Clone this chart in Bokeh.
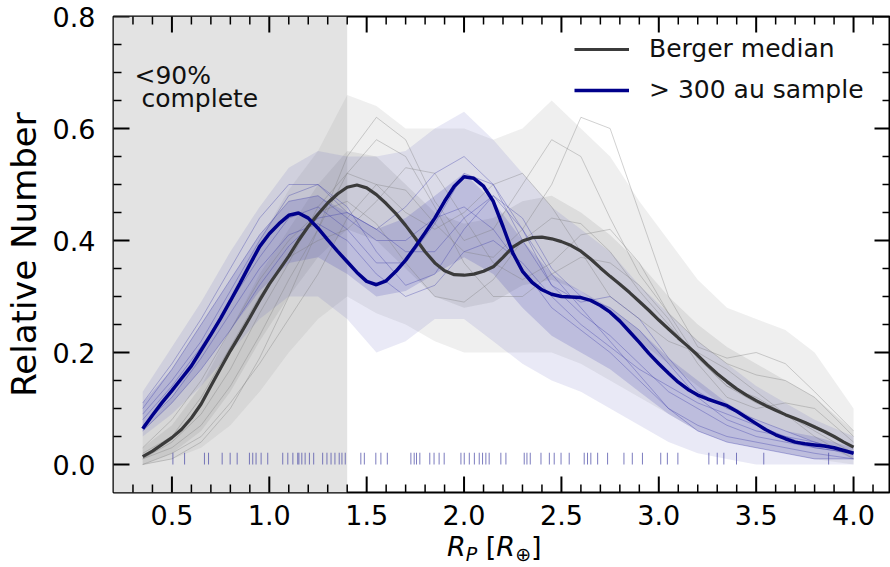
import math
from bokeh.plotting import figure
from bokeh.layouts import column
from bokeh.models import (Range1d, SingleIntervalTicker, PrintfTickFormatter, BoxAnnotation,
                          Label, Legend, LegendItem, Div)
from bokeh.embed import file_html
from bokeh.resources import INLINE

FONT = "DejaVu Sans"

# ---------------- data ----------------
x_fine = [round(0.35 + 0.05 * i, 2) for i in range(74)]
berger_median = [0.014, 0.024, 0.036, 0.048, 0.063, 0.083, 0.108, 0.140, 0.172, 0.203,
                 0.232, 0.262, 0.293, 0.322, 0.347, 0.372, 0.400, 0.425, 0.447, 0.467,
                 0.483, 0.495, 0.499, 0.494, 0.482, 0.466, 0.448, 0.427, 0.404, 0.380,
                 0.360, 0.346, 0.339, 0.338, 0.340, 0.345, 0.353, 0.370, 0.388, 0.399,
                 0.405, 0.406, 0.403, 0.398, 0.391, 0.381, 0.367, 0.351, 0.336, 0.322,
                 0.307, 0.291, 0.275, 0.258, 0.242, 0.226, 0.211, 0.195, 0.178, 0.162,
                 0.148, 0.135, 0.124, 0.114, 0.105, 0.097, 0.089, 0.082, 0.075, 0.067,
                 0.059, 0.050, 0.040, 0.031]
sample_300au = [0.064, 0.088, 0.111, 0.132, 0.154, 0.176, 0.204, 0.232, 0.261, 0.292,
                0.324, 0.357, 0.389, 0.412, 0.430, 0.445, 0.449, 0.440, 0.422, 0.401,
                0.381, 0.362, 0.343, 0.327, 0.321, 0.328, 0.345, 0.365, 0.389, 0.414,
                0.440, 0.470, 0.497, 0.514, 0.511, 0.497, 0.470, 0.425, 0.378, 0.345,
                0.325, 0.312, 0.304, 0.300, 0.299, 0.298, 0.293, 0.284, 0.272, 0.256,
                0.237, 0.218, 0.198, 0.180, 0.163, 0.147, 0.134, 0.124, 0.117, 0.111,
                0.105, 0.095, 0.084, 0.073, 0.062, 0.053, 0.046, 0.040, 0.037, 0.035,
                0.033, 0.030, 0.025, 0.020]

x_coarse = [0.35, 0.5, 0.65, 0.8, 0.95, 1.1, 1.25, 1.4, 1.55, 1.7, 1.85, 2.0, 2.15,
            2.3, 2.45, 2.6, 2.75, 2.9, 3.05, 3.2, 3.35, 3.5, 3.65, 3.8, 4.0]
grey_lo = [0.00, 0.01, 0.03, 0.07, 0.13, 0.20, 0.26, 0.30, 0.27, 0.25, 0.22, 0.20, 0.20,
           0.20, 0.20, 0.18, 0.15, 0.12, 0.09, 0.06, 0.04, 0.03, 0.02, 0.01, 0.00]
grey_hi = [0.06, 0.12, 0.20, 0.30, 0.40, 0.49, 0.56, 0.66, 0.64, 0.60, 0.60, 0.60, 0.58,
           0.60, 0.65, 0.60, 0.55, 0.47, 0.40, 0.33, 0.28, 0.26, 0.24, 0.20, 0.10]
grey_core_lo = [0.00, 0.02, 0.06, 0.13, 0.22, 0.30, 0.37, 0.42, 0.40, 0.35, 0.30, 0.28, 0.29,
                0.32, 0.33, 0.31, 0.27, 0.22, 0.18, 0.14, 0.10, 0.08, 0.06, 0.04, 0.01]
grey_core_hi = [0.03, 0.07, 0.14, 0.24, 0.34, 0.42, 0.50, 0.56, 0.55, 0.50, 0.45, 0.43, 0.44,
                0.47, 0.48, 0.45, 0.41, 0.36, 0.30, 0.25, 0.21, 0.18, 0.15, 0.12, 0.06]
blue_lo = [0.05, 0.09, 0.14, 0.20, 0.26, 0.30, 0.30, 0.26, 0.20, 0.22, 0.26, 0.26, 0.22,
           0.18, 0.15, 0.13, 0.10, 0.07, 0.04, 0.02, 0.01, 0.00, 0.00, 0.00, 0.00]
blue_hi = [0.13, 0.21, 0.29, 0.38, 0.46, 0.53, 0.56, 0.55, 0.55, 0.56, 0.60, 0.63, 0.58,
           0.52, 0.46, 0.42, 0.38, 0.32, 0.27, 0.22, 0.18, 0.14, 0.11, 0.08, 0.05]
blue_core_lo = [0.06, 0.11, 0.17, 0.24, 0.31, 0.36, 0.37, 0.34, 0.30, 0.31, 0.34, 0.37, 0.34,
                0.28, 0.23, 0.20, 0.17, 0.13, 0.09, 0.06, 0.04, 0.03, 0.02, 0.01, 0.01]
blue_core_hi = [0.11, 0.17, 0.25, 0.33, 0.41, 0.47, 0.48, 0.45, 0.42, 0.44, 0.48, 0.52, 0.47,
                0.40, 0.34, 0.31, 0.28, 0.24, 0.19, 0.15, 0.11, 0.08, 0.06, 0.05, 0.03]

grey_draws = [
    [0.00, 0.01, 0.04, 0.10, 0.19, 0.30, 0.42, 0.55, 0.62, 0.58, 0.47, 0.40, 0.42, 0.50, 0.58, 0.55, 0.44, 0.34, 0.27, 0.22, 0.18, 0.16, 0.15, 0.12, 0.05],
    [0.03, 0.08, 0.15, 0.24, 0.33, 0.40, 0.45, 0.47, 0.43, 0.36, 0.30, 0.29, 0.33, 0.40, 0.44, 0.43, 0.38, 0.31, 0.25, 0.19, 0.14, 0.11, 0.09, 0.07, 0.03],
    [0.01, 0.03, 0.07, 0.14, 0.23, 0.33, 0.42, 0.52, 0.58, 0.55, 0.46, 0.36, 0.30, 0.30, 0.34, 0.37, 0.36, 0.32, 0.26, 0.18, 0.12, 0.10, 0.11, 0.10, 0.04],
    [0.02, 0.05, 0.12, 0.21, 0.30, 0.37, 0.40, 0.42, 0.47, 0.53, 0.52, 0.44, 0.36, 0.33, 0.36, 0.41, 0.42, 0.36, 0.27, 0.19, 0.14, 0.12, 0.09, 0.06, 0.02],
    [0.00, 0.02, 0.05, 0.11, 0.18, 0.26, 0.34, 0.44, 0.50, 0.49, 0.43, 0.38, 0.37, 0.42, 0.50, 0.62, 0.60, 0.45, 0.30, 0.21, 0.19, 0.20, 0.18, 0.13, 0.06],
    [0.01, 0.04, 0.09, 0.17, 0.27, 0.36, 0.46, 0.52, 0.50, 0.45, 0.42, 0.45, 0.50, 0.52, 0.46, 0.38, 0.30, 0.26, 0.22, 0.20, 0.17, 0.13, 0.09, 0.05, 0.01],
]
blue_draws = [
    [0.08, 0.14, 0.21, 0.29, 0.37, 0.44, 0.46, 0.42, 0.36, 0.36, 0.43, 0.52, 0.50, 0.40, 0.32, 0.27, 0.23, 0.18, 0.13, 0.10, 0.07, 0.05, 0.04, 0.03, 0.02],
    [0.10, 0.17, 0.25, 0.33, 0.41, 0.47, 0.48, 0.44, 0.40, 0.40, 0.44, 0.46, 0.42, 0.35, 0.28, 0.24, 0.20, 0.15, 0.10, 0.07, 0.05, 0.04, 0.03, 0.02, 0.01],
    [0.06, 0.11, 0.17, 0.24, 0.32, 0.39, 0.44, 0.45, 0.42, 0.38, 0.38, 0.44, 0.48, 0.44, 0.35, 0.30, 0.28, 0.24, 0.18, 0.12, 0.08, 0.06, 0.05, 0.04, 0.02],
    [0.09, 0.15, 0.22, 0.31, 0.40, 0.48, 0.50, 0.46, 0.38, 0.32, 0.34, 0.42, 0.48, 0.42, 0.32, 0.29, 0.30, 0.26, 0.19, 0.13, 0.10, 0.08, 0.06, 0.04, 0.02],
    [0.07, 0.12, 0.19, 0.27, 0.35, 0.41, 0.43, 0.40, 0.34, 0.30, 0.32, 0.38, 0.40, 0.36, 0.30, 0.25, 0.21, 0.17, 0.14, 0.11, 0.09, 0.07, 0.05, 0.03, 0.02],
    [0.11, 0.18, 0.26, 0.35, 0.44, 0.50, 0.50, 0.45, 0.42, 0.46, 0.52, 0.55, 0.50, 0.42, 0.34, 0.28, 0.22, 0.16, 0.10, 0.06, 0.04, 0.03, 0.02, 0.01, 0.01],
]

rug_radii = [0.505, 0.565, 0.667, 0.688, 0.758, 0.799, 0.835, 0.898, 0.915, 0.932, 0.958,
             0.992, 1.069, 1.095, 1.121, 1.146, 1.152, 1.167, 1.184, 1.206, 1.228, 1.274,
             1.296, 1.317, 1.337, 1.359, 1.373, 1.39, 1.47, 1.488, 1.547, 1.573, 1.606,
             1.727, 1.744, 1.756, 1.773, 1.824, 1.846, 1.872, 1.898, 1.984, 2.001, 2.027,
             2.053, 2.078, 2.095, 2.112, 2.129, 2.189, 2.215, 2.309, 2.323, 2.34, 2.395,
             2.438, 2.463, 2.498, 2.54, 2.617, 2.634, 2.651, 2.686, 2.737, 2.821, 2.864,
             2.916, 3.01, 3.044, 3.098, 3.257, 3.3, 3.334, 3.399, 3.539, 3.872]

completeness_limit = 1.4
legend_labels = ["Berger median", "> 300 au sample"]

# ---------------- geometry (canvas sits at the page's top-left corner) ----------------
W, H = 890, 530
ML, MR, MT, MB = 112, 0, 16, 38
FW, FH = W - ML - MR, H - MT - MB
X0, Y0, Y1 = 0.2, -0.05, 0.8
XPX = 195.0
X1 = X0 + FW / XPX
YPX = FH / (Y1 - Y0)

p = figure(width=W, height=H, x_range=Range1d(X0, X1), y_range=Range1d(Y0, Y1),
           output_backend="svg", toolbar_location=None,
           min_border_left=ML, min_border_right=MR, min_border_top=MT, min_border_bottom=MB)
p.xgrid.visible = False
p.ygrid.visible = False
p.outline_line_color = "black"
p.outline_line_width = 2
p.background_fill_color = "white"
p.border_fill_color = "white"

p.add_layout(BoxAnnotation(right=completeness_limit, fill_color="#e3e3e3", fill_alpha=1.0,
                           line_color=None, level="underlay"))

# faint clouds
p.varea(x=x_coarse, y1=grey_lo, y2=grey_hi, fill_color="#8c8c8c", fill_alpha=0.14)
p.varea(x=x_coarse, y1=grey_core_lo, y2=grey_core_hi, fill_color="#8c8c8c", fill_alpha=0.18)
p.varea(x=x_coarse, y1=blue_lo, y2=blue_hi, fill_color="#4646b4", fill_alpha=0.12)
p.varea(x=x_coarse, y1=blue_core_lo, y2=blue_core_hi, fill_color="#4646b4", fill_alpha=0.2)
for d in grey_draws:
    p.line(x_coarse, d, line_color="#7a7a7a", line_alpha=0.35, line_width=1)
for d in blue_draws:
    p.line(x_coarse, d, line_color="#3a3aa8", line_alpha=0.35, line_width=1)

p.segment(x0=rug_radii, y0=[0.0] * len(rug_radii), x1=rug_radii, y1=[0.021] * len(rug_radii),
          line_color="#4f4fa8", line_alpha=0.75, line_width=1)

r_med = p.line(x_fine, berger_median, line_color="#3b3b3b", line_width=3.2)
r_blue = p.line(x_fine, sample_300au, line_color="#00008b", line_width=3.5)

# inward ticks on all four sides (clipped to the frame, so half of each dash shows)
x_major = [0.5 * i for i in range(1, 9)]
x_minor = [round(0.1 * i, 1) for i in range(3, 42) if i % 5 != 0]
y_major = [0.2 * i for i in range(0, 5)]
y_minor = [round(0.05 * i, 2) for i in range(1, 16) if i % 4 != 0]
for xs_edge in (X0, X1):
    p.scatter([xs_edge] * len(y_major), y_major, marker="dash", size=32, line_color="black", line_width=2)
    p.scatter([xs_edge] * len(y_minor), y_minor, marker="dash", size=16, line_color="black", line_width=1.5)
for ys_edge in (Y0, Y1):
    p.scatter(x_major, [ys_edge] * len(x_major), marker="dash", size=32, angle=math.pi / 2,
              line_color="black", line_width=2)
    p.scatter(x_minor, [ys_edge] * len(x_minor), marker="dash", size=16, angle=math.pi / 2,
              line_color="black", line_width=1.5)

legend = Legend(items=[LegendItem(label=legend_labels[0], renderers=[r_med]),
                       LegendItem(label=legend_labels[1], renderers=[r_blue])],
                location=(461, 388), orientation="vertical",
                glyph_width=55, glyph_height=20, label_height=20, label_standoff=20,
                spacing=12, padding=0, margin=0,
                border_line_color=None, background_fill_alpha=0,
                label_text_font=FONT, label_text_font_size="25px", label_text_color="#111111")
p.add_layout(legend)

def xl(px):
    return X0 + (px - ML) / XPX
def yl(py):
    return Y1 - (py - MT) / YPX

p.add_layout(Label(x=xl(133), y=yl(75), text="<90%", text_font=FONT,
                   text_font_size="25px", text_color="#111111", text_baseline="alphabetic"))
p.add_layout(Label(x=xl(140), y=yl(98), text="complete", text_font=FONT,
                   text_font_size="25px", text_color="#111111", text_baseline="alphabetic"))

# ---------------- axes ----------------
for ax in (p.xaxis[0], p.yaxis[0]):
    ax.major_tick_line_color = None
    ax.minor_tick_line_color = None
    ax.axis_line_color = None
    ax.major_label_text_font = FONT
    ax.major_label_text_font_size = "27px"
    ax.major_label_text_color = "black"
p.xaxis.ticker = SingleIntervalTicker(interval=0.5, num_minor_ticks=5)
p.yaxis.ticker = SingleIntervalTicker(interval=0.2, num_minor_ticks=4)
p.xaxis.formatter = PrintfTickFormatter(format="%.1f")
p.yaxis.formatter = PrintfTickFormatter(format="%.1f")
p.xaxis.major_label_standoff = 6
p.yaxis.major_label_standoff = 12
p.yaxis.axis_label = "Relative Number"
p.yaxis.axis_label_text_font = FONT
p.yaxis.axis_label_text_font_size = "34px"
p.yaxis.axis_label_text_font_style = "normal"
p.yaxis.axis_label_text_color = "black"
p.yaxis.axis_label_standoff = 6

# x axis label  R_P [R_⊕]  as real HTML text below the plot
sub = "font-size:19px;vertical-align:-5px;line-height:0;"
xlabel_html = (
    "<div style=\"font-family:'DejaVu Sans';font-size:27px;color:black;"
    "line-height:30px;margin-top:2px;padding-left:447px;white-space:nowrap;\">"
    f"<i>R</i><span style=\"{sub}\"><i>P</i></span> [<i>R</i><span style=\"{sub}\">⊕</span>]"
    "</div>"
)
xlabel = Div(text=xlabel_html, width=W, height=36, margin=(0, 0, 0, 0))

layout = column(p, xlabel, spacing=0)
open("out.html", "w").write(file_html(layout, INLINE))
